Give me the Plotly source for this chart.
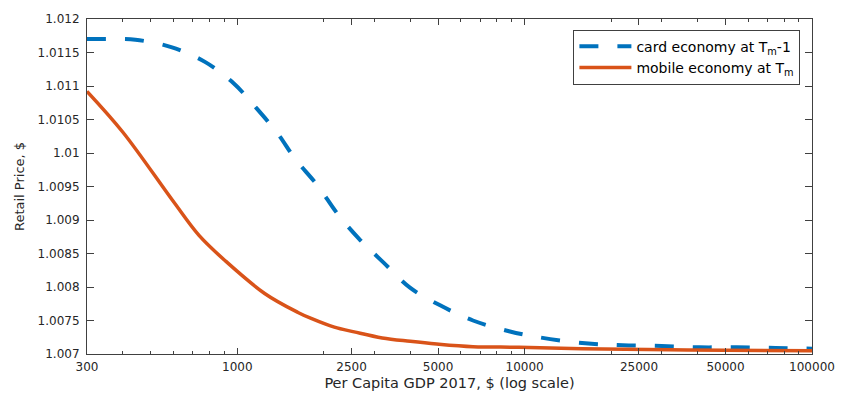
import plotly.graph_objects as go

# Per capita GDP (USD, 2017) sample points and modelled retail prices
gdp_card = [300, 343, 442, 589, 772, 971, 1166, 1388, 1585, 1907, 2235, 2654,
            3237, 3990, 5061, 6612, 8823, 11195, 16260, 21980, 29950, 40480,
            54760, 74630, 100000]
price_card = [1.01170, 1.01170, 1.01169, 1.01158, 1.01136, 1.01104, 1.01067,
              1.01028, 1.00992, 1.00951, 1.00909, 1.00872, 1.00836, 1.00799,
              1.00773, 1.00750, 1.00734, 1.00725, 1.00716, 1.00713, 1.00712,
              1.00710, 1.00710, 1.00709, 1.00708]

gdp_mobile = [300, 400, 603, 736, 909, 1249, 1627, 1808, 2177, 2552, 3195,
              4000, 4944, 6612, 9552, 15840, 36800, 100000]
price_mobile = [1.01092, 1.01031, 1.00926, 1.00877, 1.00839, 1.00790, 1.00762,
                1.00753, 1.00740, 1.00733, 1.00724, 1.00719, 1.00715, 1.00711,
                1.00710, 1.00708, 1.00706, 1.00705]

x_major = [300, 1000, 2500, 5000, 10000, 25000, 50000, 100000]
x_major_text = ["300", "1000", "2500", "5000", "10000", "25000", "50000", "100000"]
x_minor = [400, 500, 600, 700, 800, 900, 2000, 3000, 4000, 6000, 7000, 8000,
           9000, 20000, 30000, 40000, 60000, 70000, 80000, 90000]
y_ticks = [1.007, 1.0075, 1.008, 1.0085, 1.009, 1.0095, 1.01, 1.0105, 1.011,
           1.0115, 1.012]
y_tick_text = ["1.007", "1.0075", "1.008", "1.0085", "1.009", "1.0095", "1.01",
               "1.0105", "1.011", "1.0115", "1.012"]

BLUE = "#0072BD"
ORANGE = "#D95319"
INK = "#262626"
AXIS = "#404040"
FONT = "DejaVu Sans, Verdana, sans-serif"

fig = go.Figure()
fig.add_trace(go.Scatter(
    x=gdp_card, y=price_card, mode="lines", line_shape="spline",
    name="card economy at T<sub>m</sub>-1",
    line=dict(color=BLUE, width=4, dash="19px,19px"),
))
fig.add_trace(go.Scatter(
    x=gdp_mobile, y=price_mobile, mode="lines", line_shape="spline",
    name="mobile economy at T<sub>m</sub>",
    line=dict(color=ORANGE, width=3.5),
))

fig.update_layout(
    width=847, height=401,
    margin=dict(l=87, r=28, t=12, b=46),
    paper_bgcolor="white", plot_bgcolor="white",
    font=dict(family=FONT, size=12, color=INK),
    showlegend=True,
    legend=dict(
        x=0.984, y=0.968, xanchor="right", yanchor="top",
        bgcolor="white", bordercolor=AXIS, borderwidth=1,
        font=dict(family=FONT, size=14, color="#000000"),
        tracegroupgap=0, itemwidth=52,
    ),
)

fig.update_xaxes(
    type="log", range=[2.4771213, 5.0],
    tickmode="array", tickvals=x_major, ticktext=x_major_text,
    ticks="inside", ticklen=6, tickcolor=AXIS, tickwidth=1,
    showline=True, linecolor=AXIS, linewidth=1, mirror="ticks",
    showgrid=False, zeroline=False,
    tickfont=dict(size=12, color=INK), ticklabelstandoff=2,
    minor=dict(tickmode="array", tickvals=x_minor, ticks="inside",
               ticklen=3, tickcolor=AXIS, tickwidth=1, showgrid=False),
    title=dict(text="Per Capita GDP 2017, $ (log scale)",
               font=dict(size=14.5, color=INK), standoff=4),
)
fig.update_yaxes(
    range=[1.007, 1.012],
    tickmode="array", tickvals=y_ticks, ticktext=y_tick_text,
    ticks="inside", ticklen=7, tickcolor=AXIS, tickwidth=1,
    showline=True, linecolor=AXIS, linewidth=1, mirror="ticks",
    showgrid=False, zeroline=False,
    tickfont=dict(size=12, color=INK), ticklabelstandoff=4,
    title=dict(text="Retail Price, $", font=dict(size=13, color=INK), standoff=10),
)

fig.write_html("out.html")
